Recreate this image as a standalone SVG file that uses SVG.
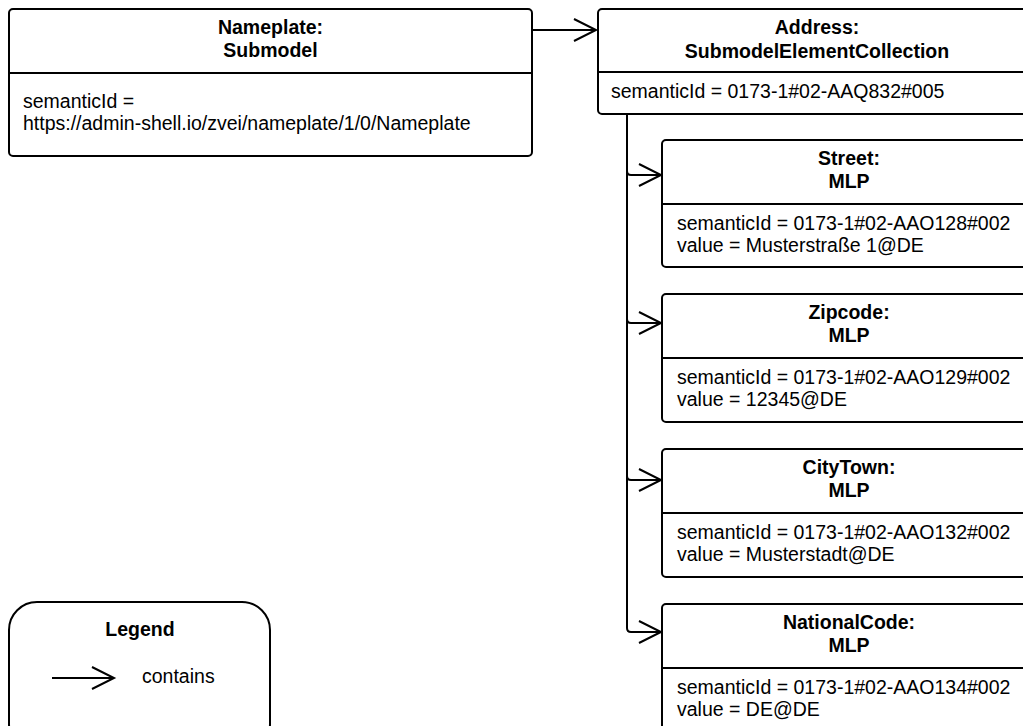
<svg xmlns="http://www.w3.org/2000/svg" width="1023" height="726" viewBox="0 0 1023 726">
  <style>
    .box { fill: #ffffff; stroke: #000000; stroke-width: 2; }
    .div { stroke: #000000; stroke-width: 2; }
    .edge { fill: none; stroke: #000000; stroke-width: 2; }
    text { font-family: "Liberation Sans", Arial, sans-serif; font-size: 19.5px; fill: #000000; }
    .title { font-weight: bold; text-anchor: middle; }
  </style>
  <defs>
    <marker id="open-arrow" markerUnits="userSpaceOnUse" markerWidth="30" markerHeight="30" viewBox="-26 -14 30 28" refX="0" refY="0" orient="auto" overflow="visible">
      <path d="M-22,-11 L0,0 L-22,11" fill="none" stroke="#000000" stroke-width="2"/>
    </marker>
  </defs>
  <rect width="1023" height="726" fill="#ffffff"/>

  <!-- containment connectors -->
  <g id="connectors">
    <path class="edge" d="M533,30 H596" marker-end="url(#open-arrow)"/>
    <path class="edge" d="M627,114 V171 Q627,175 631,175 H661" marker-end="url(#open-arrow)"/>
    <path class="edge" d="M627,114 V319 Q627,323 631,323 H661" marker-end="url(#open-arrow)"/>
    <path class="edge" d="M627,114 V476 Q627,480 631,480 H661" marker-end="url(#open-arrow)"/>
    <path class="edge" d="M627,114 V628 Q627,632 631,632 H661" marker-end="url(#open-arrow)"/>
  </g>

  <g id="nameplate">
    <rect class="box" x="9" y="9" width="523" height="147" rx="4"/>
    <line class="div" x1="9" y1="73" x2="532" y2="73"/>
    <text class="title" x="270.5" y="34">Nameplate:</text>
    <text class="title" x="270.5" y="57">Submodel</text>
    <text x="23" y="108">semanticId =</text>
    <text x="23" y="130">https://admin-shell.io/zvei/nameplate/1/0/Nameplate</text>
  </g>

  <g id="address">
    <rect class="box" x="598" y="9" width="438" height="105" rx="4"/>
    <line class="div" x1="598" y1="72" x2="1036" y2="72"/>
    <text class="title" x="817" y="34">Address:</text>
    <text class="title" x="817" y="58">SubmodelElementCollection</text>
    <text x="611" y="98">semanticId = 0173-1#02-AAQ832#005</text>
  </g>

  <g id="street">
    <rect class="box" x="662" y="140" width="374" height="127" rx="4"/>
    <line class="div" x1="662" y1="204" x2="1036" y2="204"/>
    <text class="title" x="849" y="165">Street:</text>
    <text class="title" x="849" y="188">MLP</text>
    <text x="677" y="230">semanticId = 0173-1#02-AAO128#002</text>
    <text x="677" y="252">value = Musterstraße 1@DE</text>
  </g>

  <g id="zipcode">
    <rect class="box" x="662" y="294" width="374" height="128" rx="4"/>
    <line class="div" x1="662" y1="358" x2="1036" y2="358"/>
    <text class="title" x="849" y="319">Zipcode:</text>
    <text class="title" x="849" y="342">MLP</text>
    <text x="677" y="384">semanticId = 0173-1#02-AAO129#002</text>
    <text x="677" y="406">value = 12345@DE</text>
  </g>

  <g id="citytown">
    <rect class="box" x="662" y="449" width="374" height="128" rx="4"/>
    <line class="div" x1="662" y1="513" x2="1036" y2="513"/>
    <text class="title" x="849" y="474">CityTown:</text>
    <text class="title" x="849" y="497">MLP</text>
    <text x="677" y="539">semanticId = 0173-1#02-AAO132#002</text>
    <text x="677" y="561">value = Musterstadt@DE</text>
  </g>

  <g id="nationalcode">
    <rect class="box" x="662" y="604" width="374" height="128" rx="4"/>
    <line class="div" x1="662" y1="668" x2="1036" y2="668"/>
    <text class="title" x="849" y="629">NationalCode:</text>
    <text class="title" x="849" y="652">MLP</text>
    <text x="677" y="694">semanticId = 0173-1#02-AAO134#002</text>
    <text x="677" y="716">value = DE@DE</text>
  </g>

  <g id="legend">
    <rect class="box" x="9" y="602" width="261" height="150" rx="28"/>
    <text class="title" x="140" y="636">Legend</text>
    <path class="edge" d="M52,678 H114" marker-end="url(#open-arrow)"/>
    <text x="142" y="683">contains</text>
  </g>
</svg>
